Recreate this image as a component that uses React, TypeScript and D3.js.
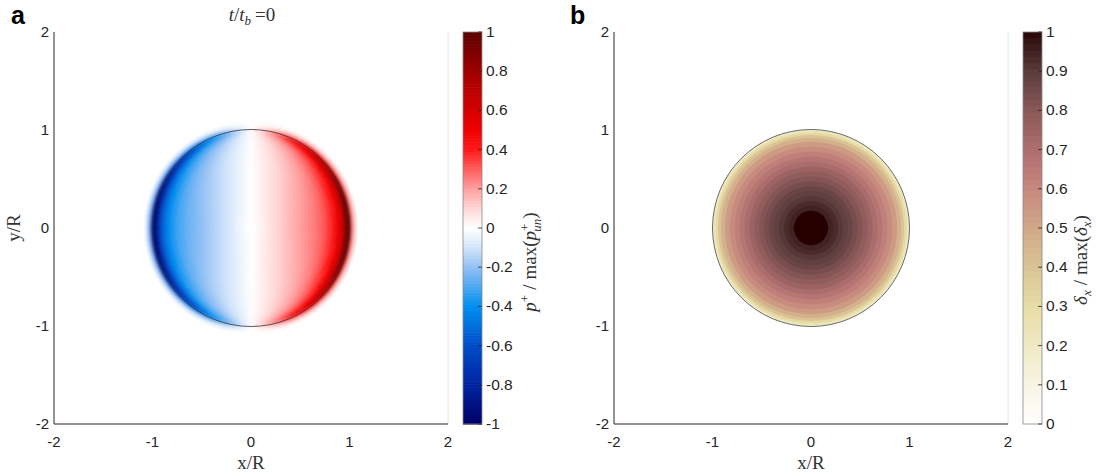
import React from 'react';
import * as d3 from 'd3';

// axis ticks
const xTicks = [-2, -1, 0, 1, 2];
const yTicks = [2, 1, 0, -1, -2];
const pTicks = [1, 0.8, 0.6, 0.4, 0.2, 0, -0.2, -0.4, -0.6, -0.8, -1];
const dTicks = [0, 0.1, 0.2, 0.3, 0.4, 0.5, 0.6, 0.7, 0.8, 0.9, 1];

// panel a: amplitude of p+ / max(p+_un) along y = 0 (x/R > 0)
const pRadius = [0, 0.05, 0.1, 0.15, 0.2, 0.25, 0.3, 0.35, 0.4, 0.45, 0.5, 0.55, 0.6, 0.65, 0.7, 0.75, 0.8, 0.85, 0.9, 0.93, 0.96, 0.98, 1.0, 1.02, 1.05];
const pAmp = [0, 0.01, 0.03, 0.05, 0.08, 0.1, 0.12, 0.14, 0.16, 0.18, 0.2, 0.22, 0.24, 0.26, 0.29, 0.32, 0.37, 0.44, 0.54, 0.68, 0.86, 1.0, 1.0, 0.6, 0.14];

// panel b: delta_x / max(delta_x) vs r/R
const dRadius = [0, 0.1, 0.15, 0.2, 0.25, 0.3, 0.35, 0.4, 0.45, 0.5, 0.55, 0.6, 0.65, 0.7, 0.75, 0.8, 0.85, 0.9, 0.93, 0.96, 0.98, 1.0];
const dValue = [1, 1, 1, 0.95, 0.93, 0.91, 0.89, 0.87, 0.84, 0.81, 0.78, 0.75, 0.71, 0.67, 0.63, 0.59, 0.54, 0.47, 0.4, 0.31, 0.23, 0.15];

// colormaps
const pStops = [-1, -0.8, -0.6, -0.4, -0.3, -0.2, -0.1, 0, 0.1, 0.2, 0.3, 0.4, 0.5, 0.6, 0.8, 1];
const pColors = ['#000066', '#0022a0', '#004cc8', '#0090f0', '#4aa6f2', '#92c0f4', '#d2e4fa', '#ffffff', '#ffd8d8', '#ffa0a0', '#ff6060', '#ff1a1a', '#f00000', '#d60000', '#a00000', '#5c0000'];
const dStops = [0, 0.1, 0.2, 0.3, 0.4, 0.5, 0.6, 0.7, 0.8, 0.9, 1];
const dColors = ['#ffffff', '#f8f4e4', '#f0eac4', '#e6dca6', '#dac496', '#d2a888', '#c6887e', '#ae6e6e', '#8a5858', '#5c3c3c', '#280606'];

const pColor = d3.scaleLinear<string>().domain(pStops).range(pColors).clamp(true);
const dColor = d3.scaleLinear<string>().domain(dStops).range(dColors).clamp(true);

const TOP = 32, BOTTOM = 424;
const ink = '#262626';
const sans = '"Liberation Sans", Arial, sans-serif';
const serif = '"Liberation Serif", "DejaVu Serif", serif';

function ringBounds(r: number[], clipTo?: number) {
  return r.map((v, i) => {
    const inner = i === 0 ? 0 : (r[i - 1] + v) / 2;
    let outer = i === r.length - 1 ? v + (v - r[i - 1]) / 2 : (v + r[i + 1]) / 2;
    if (clipTo !== undefined) outer = Math.min(outer, clipTo);
    return [inner, outer];
  });
}

const Axes = ({ x, y, yLabel }: any) => (
  <g>
    <line x1={x.range()[1]} x2={x.range()[1]} y1={TOP} y2={BOTTOM} stroke="#e4e4e4" />
    <line x1={x.range()[0]} x2={x.range()[0]} y1={TOP} y2={BOTTOM} stroke={ink} strokeWidth={1} />
    <line x1={x.range()[0]} x2={x.range()[1]} y1={BOTTOM} y2={BOTTOM} stroke={ink} strokeWidth={1} />
    {xTicks.map(t => (
      <text key={'x' + t} x={x(t)} y={447} textAnchor="middle" fontFamily={sans} fontSize={15} fill={ink}>{t}</text>
    ))}
    {yTicks.map(t => (
      <text key={'y' + t} x={x.range()[0] - 5} y={y(t) + 5} textAnchor="end" fontFamily={sans} fontSize={15} fill={ink}>{t}</text>
    ))}
    <text x={x(0)} y={469} textAnchor="middle" fontFamily={serif} fontSize={19} fill="#333">x/R</text>
    {yLabel && (
      <text transform={`translate(20,${y(0)}) rotate(-90)`} textAnchor="middle" fontFamily={serif} fontSize={19} fill="#333">y/R</text>
    )}
  </g>
);

const Colorbar = ({ x0, ticks, color, domain, steps }: any) => {
  const cy = d3.scaleLinear().domain(domain).range([BOTTOM, TOP]);
  const w = 19;
  const n = steps;
  const levels = d3.range(n).map(i => domain[0] + (i + 0.5) * (domain[1] - domain[0]) / n);
  const h = (BOTTOM - TOP) / n;
  return (
    <g>
      {levels.map((v, i) => (
        <rect key={i} x={x0} y={cy(v) - h / 2} width={w} height={h + 0.6} fill={color(v)} />
      ))}
      <rect x={x0} y={TOP} width={w} height={BOTTOM - TOP} fill="none" stroke="#8a8a8a" strokeWidth={0.8} />
      {ticks.map((t: number) => (
        <g key={t}>
          <line x1={x0 + w - 4} x2={x0 + w} y1={cy(t)} y2={cy(t)} stroke={ink} strokeWidth={0.8} />
          <text x={x0 + w + 4} y={cy(t) + 5} fontFamily={sans} fontSize={15.5} fill={ink}>{t}</text>
        </g>
      ))}
    </g>
  );
};

export default function App() {
  const xa = d3.scaleLinear().domain([-2, 2]).range([54, 448]);
  const xb = d3.scaleLinear().domain([-2, 2]).range([614, 1008]);
  const y = d3.scaleLinear().domain([-2, 2]).range([BOTTOM, TOP]);
  const rPx = d3.scaleLinear().domain([0, 1]).range([0, xa(1) - xa(0)]);

  const arc = d3.arc<any>();
  const sectorStep = 3;
  const sectors = d3.range(0, 360, sectorStep);
  const pRings = ringBounds(pRadius);
  const pCells: any[] = [];
  pRings.forEach(([r0, r1], i) => {
    sectors.forEach(s => {
      const a0 = (s * Math.PI) / 180;
      const a1 = ((s + sectorStep) * Math.PI) / 180;
      const v = Math.sin((a0 + a1) / 2) * pAmp[i];
      pCells.push({
        d: arc({ innerRadius: rPx(r0), outerRadius: rPx(r1), startAngle: a0, endAngle: a1 }),
        fill: pColor(v),
      });
    });
  });

  const dRings = ringBounds(dRadius, 1.0);

  return (
    <svg width={1096} height={476} style={{ position: 'absolute', left: 0, top: 0, background: '#fff' }}>
      <defs>
        <filter id="soft" x="-20%" y="-20%" width="140%" height="140%">
          <feGaussianBlur stdDeviation={1.4} />
        </filter>
        <filter id="softb" x="-20%" y="-20%" width="140%" height="140%">
          <feGaussianBlur stdDeviation={0.5} />
        </filter>
      </defs>

      {/* panel a */}
      <g transform={`translate(${xa(0)},${y(0)})`} filter="url(#soft)">
        {pCells.map((c, i) => (
          <path key={i} d={c.d} fill={c.fill} stroke={c.fill} strokeWidth={0.6} />
        ))}
      </g>
      <circle cx={xa(0)} cy={y(0)} r={rPx(1)} fill="none" stroke="#333" strokeWidth={0.8} />
      <Axes x={xa} y={y} yLabel />
      <Colorbar x0={463} ticks={pTicks} color={pColor} domain={[-1, 1]} steps={128} />
      <text transform="translate(536,262) rotate(-90)" textAnchor="middle" fontFamily={serif} fontSize={19} fill="#333">
        <tspan fontStyle="italic">p</tspan>
        <tspan fontSize={13} dy={-7}>+</tspan>
        <tspan dy={7} dx={5}>/</tspan>
        <tspan dx={5}>max(</tspan>
        <tspan fontStyle="italic">p</tspan>
        <tspan fontSize={13} dy={-7}>+</tspan>
        <tspan fontSize={13} fontStyle="italic" dx={-8} dy={12}>un</tspan>
        <tspan dy={-5}>)</tspan>
      </text>
      <text x={252} y={21} textAnchor="middle" fontFamily={serif} fontSize={19} fill="#333">
        <tspan fontStyle="italic">t</tspan>
        <tspan>/</tspan>
        <tspan fontStyle="italic">t</tspan>
        <tspan fontSize={13} fontStyle="italic" dy={4}>b</tspan>
        <tspan dy={-4} dx={4}>=0</tspan>
      </text>
      <text x={11} y={24} fontFamily={sans} fontWeight="bold" fontSize={25} fill="#000">a</text>

      {/* panel b */}
      <g transform={`translate(${xb(0)},${y(0)})`} filter="url(#softb)">
        {dRings.slice().reverse().map(([, r1], j) => {
          const i = dRings.length - 1 - j;
          return <circle key={i} r={rPx(r1)} fill={dColor(dValue[i])} />;
        })}
      </g>
      <circle cx={xb(0)} cy={y(0)} r={rPx(1)} fill="none" stroke="#444" strokeWidth={0.8} />
      <Axes x={xb} y={y} />
      <Colorbar x0={1023} ticks={dTicks} color={dColor} domain={[0, 1]} steps={64} />
      <text transform="translate(1087,260) rotate(-90)" textAnchor="middle" fontFamily={serif} fontSize={19} fill="#333">
        <tspan fontStyle="italic">δ</tspan>
        <tspan fontSize={13} fontStyle="italic" dy={4}>x</tspan>
        <tspan dy={-4} dx={5}>/</tspan>
        <tspan dx={5}>max(</tspan>
        <tspan fontStyle="italic">δ</tspan>
        <tspan fontSize={13} fontStyle="italic" dy={4}>x</tspan>
        <tspan dy={-4}>)</tspan>
      </text>
      <text x={570} y={24} fontFamily={sans} fontWeight="bold" fontSize={25} fill="#000">b</text>
    </svg>
  );
}
